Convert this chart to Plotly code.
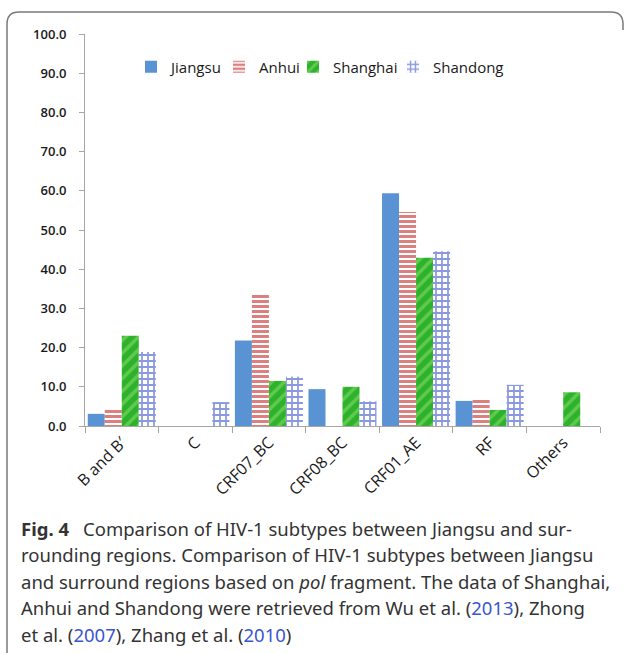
import plotly.graph_objects as go

# HIV-1 subtype distribution (%) by region
categories = ["B and B\u2032", "C", "CRF07_BC", "CRF08_BC", "CRF01_AE", "RF", "Others"]
jiangsu = [3.1, 0.0, 21.8, 9.4, 59.4, 6.4, 0.0]
anhui = [4.6, 0.0, 33.4, 0.0, 54.6, 6.9, 0.0]
shanghai = [23.0, 0.0, 11.5, 10.0, 42.9, 4.1, 8.6]
shandong = [18.9, 6.1, 12.6, 6.3, 44.6, 10.5, 0.0]
y_ticks = [0, 10, 20, 30, 40, 50, 60, 70, 80, 90, 100]

caption_lines = [
    "<b>Fig. 4</b>\u2002 Comparison of HIV-1 subtypes between Jiangsu and sur-",
    "rounding regions. Comparison of HIV-1 subtypes between Jiangsu",
    "and surround regions based on <i>pol</i> fragment. The data of Shanghai,",
    "Anhui and Shandong were retrieved from Wu et al. (<span style='color:#3a55d0'>2013</span>), Zhong",
    "et al. (<span style='color:#3a55d0'>2007</span>), Zhang et al. (<span style='color:#3a55d0'>2010</span>)",
]

W, H = 627, 653
L, R, T, B = 85, 27, 34, 227
PW, PH = W - L - R, H - T - B


def px(x):
    return (x - L) / PW


def py(y):
    return (H - B - y) / PH


fig = go.Figure()
fig.add_bar(name="Jiangsu", x=categories, y=jiangsu, legend="legend",
            marker=dict(color="#5a93d3", line=dict(width=0)))
fig.add_bar(name="Anhui", x=categories, y=anhui, legend="legend2",
            marker=dict(color="white", line=dict(width=0),
                        pattern=dict(shape="-", fgcolor="#b80000", bgcolor="white",
                                     size=5, solidity=0.6, fillmode="overlay")))
fig.add_bar(name="Shanghai", x=categories, y=shanghai, legend="legend3",
            marker=dict(color="#2cb22c", line=dict(width=0),
                        pattern=dict(shape="/", fgcolor="#93e070", bgcolor="#2cb22c",
                                     size=9, solidity=0.4, fillmode="overlay")))
fig.add_bar(name="Shandong", x=categories, y=shandong, legend="legend4",
            marker=dict(color="white", line=dict(width=0),
                        pattern=dict(shape="+", fgcolor="#1534c0", bgcolor="white",
                                     size=6, solidity=0.5, fillmode="overlay")))

tick_font = dict(family="Open Sans", size=13, color="#1a1a1a", weight=600)
x_tick_font = dict(family="Open Sans", size=16, color="#1a1a1a", weight=500)
legend_font = dict(family="Open Sans", size=15, color="#1a1a1a")


def legend_at(xpix):
    return dict(orientation="h", x=px(xpix), y=py(67), xanchor="left", yanchor="middle",
                font=legend_font, itemwidth=30, bgcolor="rgba(0,0,0,0)")


fig.update_layout(
    width=W, height=H,
    margin=dict(l=L, r=R, t=T, b=B),
    paper_bgcolor="white", plot_bgcolor="white",
    barmode="group", bargap=0.075, bargroupgap=0,
    showlegend=True,
    legend=legend_at(131),
    legend2=legend_at(219),
    legend3=legend_at(293),
    legend4=legend_at(393),
    xaxis=dict(showgrid=False, showline=True, linecolor="#a6a6a6", linewidth=1,
               ticks="outside", tickson="boundaries", ticklen=6, tickcolor="#a6a6a6",
               tickangle=-45, tickfont=x_tick_font, zeroline=False),
    yaxis=dict(range=[0, 100], tickvals=y_ticks, tickformat=".1f", showgrid=False,
               showline=True, linecolor="#a6a6a6", linewidth=1, ticks="outside",
               ticklen=5, tickcolor="#a6a6a6", tickfont=tick_font, zeroline=False,
               ticklabelstandoff=10),
)

# caption text below the chart
for i, line in enumerate(caption_lines):
    fig.add_annotation(text=line, xref="paper", yref="paper", x=px(19), y=py(528 + i * 26.5),
                       xanchor="left", yanchor="middle", showarrow=False, align="left",
                       font=dict(family="Noto Sans", size=18.5, color="#333333"))

# rounded frame around the figure
x0, x1 = px(7), px(623)
y0, y1 = py(660), py(12)
rx, ry = 12 / PW, 12 / PH
path = (f"M {x0},{y0} L {x0},{y1 - ry} Q {x0},{y1} {x0 + rx},{y1} "
        f"L {x1 - rx},{y1} Q {x1},{y1} {x1},{y1 - ry} L {x1},{y1 - 1.5 * ry}")
fig.add_shape(type="path", path=path, xref="paper", yref="paper",
              line=dict(color="#7a7a7a", width=1.5))

fig.write_html("out.html")
